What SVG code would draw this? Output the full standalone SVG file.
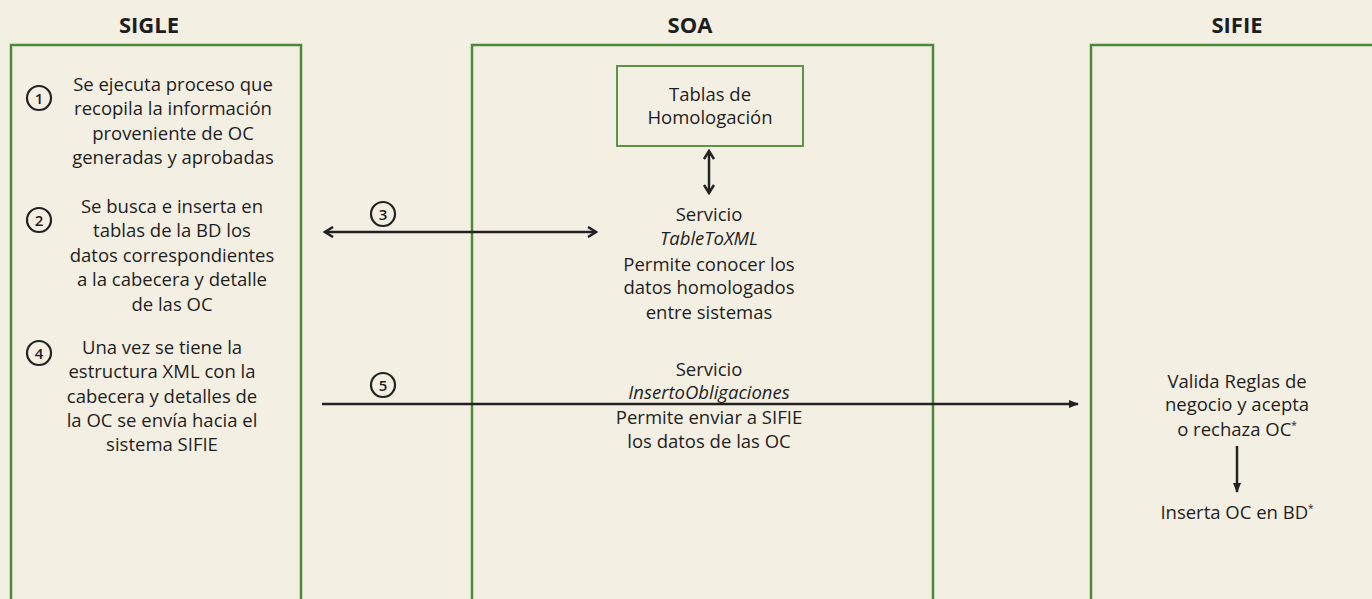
<svg xmlns="http://www.w3.org/2000/svg" width="1372" height="599" viewBox="0 0 1372 599">
<defs>
<style>
.bg{fill:#f4efe3}
.lane{fill:none;stroke:#4c8a3a;stroke-width:2.5}
.box{fill:none;stroke:#5e9449;stroke-width:2}
.title{font-family:"Open Sans","Liberation Sans",Arial,sans-serif;font-weight:bold;font-size:22px;fill:#1e1e1e;text-anchor:middle}
.t{font-family:"Open Sans","Liberation Sans",Arial,sans-serif;font-size:18.5px;font-weight:500;fill:#1e1e1e;text-anchor:middle}
.num{font-family:"Open Sans","Liberation Sans",Arial,sans-serif;font-size:15px;font-weight:600;fill:#1e1e1e;text-anchor:middle}
.circ{fill:none;stroke:#222;stroke-width:2.2}
.conn{fill:none;stroke:#222;stroke-width:2.5}
.sup{font-size:10px}
</style>
<marker id="open" viewBox="0 0 12 12" refX="10" refY="6" markerWidth="12" markerHeight="12" markerUnits="userSpaceOnUse" orient="auto-start-reverse">
<path d="M2,1 L10,6 L2,11" fill="none" stroke="#222" stroke-width="2.5"/>
</marker>
<marker id="solid" viewBox="0 0 10 10" refX="9" refY="5" markerWidth="10" markerHeight="10" markerUnits="userSpaceOnUse" orient="auto">
<path d="M0,1 L10,5 L0,9 Z" fill="#222"/>
</marker>
</defs>
<rect class="bg" x="0" y="0" width="1372" height="599"/>

<g id="lane-sigle">
<rect class="lane" x="11" y="45" width="290" height="570"/>
<text class="title" x="149" y="33">SIGLE</text>
</g>
<g id="lane-soa">
<rect class="lane" x="472" y="45" width="461" height="570"/>
<text class="title" x="690" y="33">SOA</text>
</g>
<g id="lane-sifie">
<rect class="lane" x="1091" y="45" width="300" height="570"/>
<text class="title" x="1237" y="33">SIFIE</text>
</g>

<g id="step1">
<circle class="circ" cx="39" cy="98" r="12"/>
<text class="num" x="39" y="103.5">1</text>
<text class="t"><tspan x="173" y="91">Se ejecuta proceso que</tspan><tspan x="173" y="115">recopila la información</tspan><tspan x="173" y="140">proveniente de OC</tspan><tspan x="173" y="164">generadas y aprobadas</tspan></text>
</g>
<g id="step2">
<circle class="circ" cx="39" cy="220" r="12"/>
<text class="num" x="39" y="225.5">2</text>
<text class="t"><tspan x="172" y="213">Se busca e inserta en</tspan><tspan x="172" y="237">tablas de la BD los</tspan><tspan x="172" y="262">datos correspondientes</tspan><tspan x="172" y="286">a la cabecera y detalle</tspan><tspan x="172" y="311">de las OC</tspan></text>
</g>
<g id="step4">
<circle class="circ" cx="39" cy="353" r="12"/>
<text class="num" x="39" y="358.5">4</text>
<text class="t"><tspan x="162" y="354">Una vez se tiene la</tspan><tspan x="162" y="378">estructura XML con la</tspan><tspan x="162" y="403">cabecera y detalles de</tspan><tspan x="162" y="427">la OC se envía hacia el</tspan><tspan x="162" y="451">sistema SIFIE</tspan></text>
</g>

<g id="tablas">
<rect class="box" x="617" y="66" width="186" height="80"/>
<text class="t"><tspan x="710" y="101">Tablas de</tspan><tspan x="710" y="124">Homologación</tspan></text>
</g>
<g id="servicio-table">
<text class="t"><tspan x="709" y="221">Servicio</tspan><tspan x="709" y="245" font-style="italic">TableToXML</tspan><tspan x="709" y="271">Permite conocer los</tspan><tspan x="709" y="294">datos homologados</tspan><tspan x="709" y="319">entre sistemas</tspan></text>
</g>
<g id="servicio-inserto">
<text class="t"><tspan x="709" y="376">Servicio</tspan><tspan x="709" y="399" font-style="italic">InsertoObligaciones</tspan><tspan x="709" y="424">Permite enviar a SIFIE</tspan><tspan x="709" y="448">los datos de las OC</tspan></text>
</g>

<g id="valida">
<text class="t"><tspan x="1237" y="388">Valida Reglas de</tspan><tspan x="1237" y="411">negocio y acepta</tspan><tspan x="1237" y="436">o rechaza OC<tspan class="sup" dy="-7">*</tspan></tspan></text>
</g>
<g id="inserta">
<text class="t"><tspan x="1237" y="519">Inserta OC en BD<tspan class="sup" dy="-7">*</tspan></tspan></text>
</g>

<g id="connectors">
<line class="conn" x1="325" y1="232" x2="596" y2="232" marker-start="url(#open)" marker-end="url(#open)"/>
<circle class="circ" cx="383" cy="214" r="12"/>
<text class="num" x="383" y="219.5">3</text>
<line class="conn" x1="709" y1="151" x2="709" y2="193" marker-start="url(#open)" marker-end="url(#open)"/>
<line class="conn" x1="322" y1="404" x2="1078" y2="404" marker-end="url(#solid)"/>
<circle class="circ" cx="383" cy="385" r="12"/>
<text class="num" x="383" y="390.5">5</text>
<line class="conn" x1="1237" y1="446" x2="1237" y2="492" marker-end="url(#solid)"/>
</g>
</svg>
